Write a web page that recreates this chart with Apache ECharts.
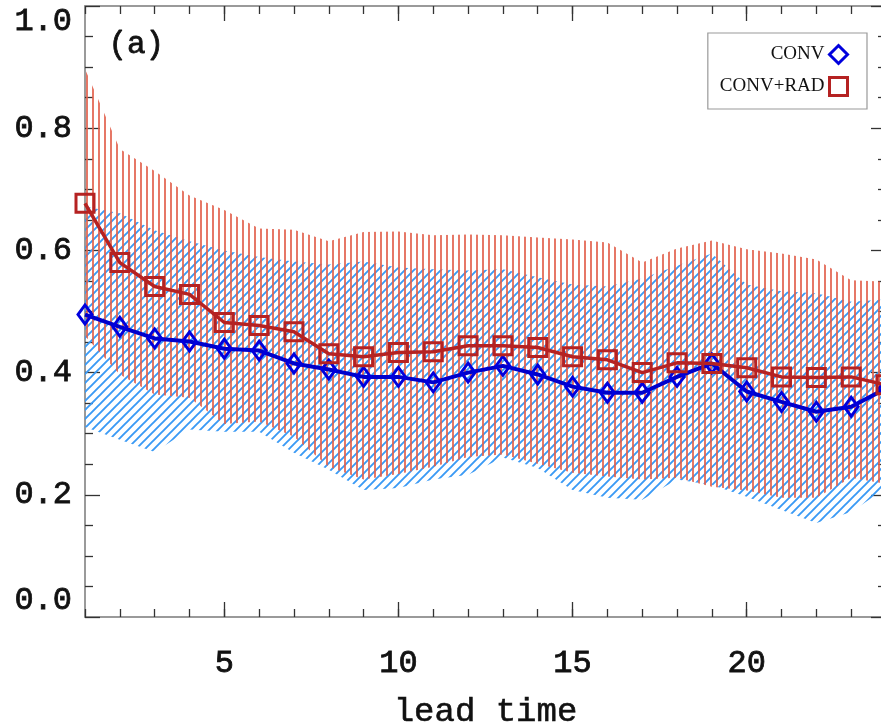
<!DOCTYPE html>
<html>
<head>
<meta charset="utf-8">
<script src="https://cdn.jsdelivr.net/npm/echarts@6/dist/echarts.min.js"></script>
<style>html,body{margin:0;padding:0;background:#fff}#c{width:881px;height:725px}</style>
</head>
<body>
<div id="c"></div>
<script>
// ---- data ----
var leadTime = [1,2,3,4,5,6,7,8,9,10,11,12,13,14,15,16,17,18,19,20,21,22,23,24];
var conv     = [0.495,0.475,0.456,0.451,0.439,0.436,0.415,0.405,0.393,0.393,0.384,0.400,0.411,0.397,0.377,0.367,0.367,0.393,0.415,0.369,0.352,0.336,0.344,0.374];
var convRad  = [0.677,0.580,0.541,0.528,0.482,0.477,0.467,0.431,0.426,0.433,0.434,0.444,0.444,0.441,0.426,0.421,0.400,0.416,0.415,0.408,0.393,0.392,0.393,0.380];
var convUpper    = [0.672,0.661,0.633,0.615,0.600,0.589,0.582,0.577,0.582,0.572,0.569,0.567,0.569,0.556,0.544,0.541,0.554,0.575,0.595,0.544,0.533,0.530,0.516,0.520];
var convLower    = [0.311,0.290,0.270,0.307,0.303,0.303,0.269,0.241,0.208,0.211,0.225,0.233,0.261,0.244,0.208,0.195,0.192,0.225,0.216,0.197,0.175,0.154,0.172,0.211];
var convRadUpper = [0.897,0.766,0.730,0.690,0.666,0.636,0.634,0.615,0.630,0.631,0.625,0.626,0.625,0.621,0.618,0.613,0.580,0.603,0.616,0.602,0.595,0.585,0.551,0.549];
var convRadLower = [0.460,0.397,0.364,0.359,0.316,0.320,0.295,0.246,0.225,0.234,0.246,0.262,0.266,0.251,0.236,0.230,0.225,0.228,0.213,0.207,0.195,0.195,0.228,0.218];
var yTicks = [0.0,0.2,0.4,0.6,0.8,1.0];
var seriesNames = ['CONV','CONV+RAD'];
var panelLabel = '(a)';
var xTitle = 'lead time';

// ---- patterns ----
function vPattern(){
  var c=document.createElement('canvas'); c.width=6; c.height=6;
  var g=c.getContext('2d'); g.strokeStyle='#e2604c'; g.lineWidth=1.7;
  g.beginPath(); g.moveTo(3,0); g.lineTo(3,6); g.stroke(); return c;
}
function dPattern(){
  var s=9, c=document.createElement('canvas'); c.width=s; c.height=s;
  var g=c.getContext('2d'); g.strokeStyle='#3a9af5'; g.lineWidth=1.9;
  g.beginPath();
  g.moveTo(0,s); g.lineTo(s,0);
  g.moveTo(-s/2,s/2); g.lineTo(s/2,-s/2);
  g.moveTo(s/2,s*1.5); g.lineTo(s*1.5,s/2);
  g.stroke(); return c;
}
var blueDiff = convUpper.map(function(v,i){return +(v-convLower[i]).toFixed(3);});
var redDiff  = convRadUpper.map(function(v,i){return +(v-convRadLower[i]).toFixed(3);});

var mono = 'Liberation Mono';
var axisGray = '#9a9a9a';
var tickCol = '#333';
var txt = '#111';
function isMajor(i, v){ return (+v) % 5 === 0; }

function xAx(pos, major, labels){
  return {
    type:'category', data: leadTime, boundaryGap:false, position:pos,
    axisLine:{show: !major, lineStyle:{color:axisGray, width:2}},
    axisTick:{show:true, inside:true, length: major?15:8, interval: major?isMajor:0, alignWithLabel:true, lineStyle:{color:tickCol,width:1.3}},
    axisLabel:{show: labels, interval: isMajor, margin:31, fontFamily:mono, fontSize:32, color:txt, textBorderColor:txt, textBorderWidth:0.8},
    splitLine:{show:false},
    name: labels ? xTitle : '', nameLocation:'middle', nameGap:78,
    nameTextStyle:{fontFamily:mono, fontSize:34, color:txt, textBorderColor:txt, textBorderWidth:0.6}
  };
}
function yAx(pos, labels){
  return {
    type:'value', min:0, max:1, interval:0.2, position:pos,
    axisLine:{show:true, lineStyle:{color:axisGray, width:2}},
    axisTick:{show:true, inside:true, length:15, lineStyle:{color:tickCol,width:1.3}},
    minorTick:{show:true, splitNumber:4, length:8, lineStyle:{color:tickCol,width:1.3}},
    splitLine:{show:false}, minorSplitLine:{show:false},
    axisLabel:{show:labels, margin:13, fontFamily:mono, fontSize:32, color:txt, textBorderColor:txt, textBorderWidth:0.8,
      verticalAlignMinLabel:'bottom', verticalAlignMaxLabel:'top',
      formatter:function(v){return v.toFixed(1);}}
  };
}

var chart = echarts.init(document.getElementById('c'), null, {renderer:'canvas'});
chart.setOption({
  backgroundColor:'#fff',
  animation:false,
  grid:{left:85, right:-5, top:6, bottom:108, containLabel:false, outerBoundsMode:'none'},
  xAxis:[xAx('bottom',false,false), xAx('bottom',true,true), xAx('top',false,false), xAx('top',true,false)],
  yAxis:[yAx('left',true), yAx('right',false)],
  legend:{
    right:14, top:33, orient:'vertical', align:'right',
    padding:[11,18,12,12], itemGap:11, itemWidth:18, itemHeight:18,
    borderColor:'#999', borderWidth:1.2, backgroundColor:'#fff',
    textStyle:{fontFamily:'Liberation Serif', fontSize:19, color:'#111'},
    data:[
      {name:seriesNames[0], icon:'diamond', itemStyle:{color:'transparent', borderColor:'#0000dd', borderWidth:3}},
      {name:seriesNames[1], icon:'rect', itemStyle:{color:'transparent', borderColor:'#b52222', borderWidth:3}}
    ]
  },
  graphic:[{type:'text', left:108, top:29, style:{text:panelLabel, font:'31px "Liberation Mono"', fill:txt, stroke:txt, lineWidth:0.8}}],
  series:[
    {name:'convLow', type:'line', stack:'b', data:convLower, symbol:'none', lineStyle:{opacity:0}, silent:true, z:1},
    {name:'convBand', type:'line', stack:'b', data:blueDiff, symbol:'none', lineStyle:{opacity:0}, silent:true, z:1,
      areaStyle:{color:{image:dPattern(), repeat:'repeat'}, opacity:1}},
    {name:'radLow', type:'line', stack:'r', data:convRadLower, symbol:'none', lineStyle:{opacity:0}, silent:true, z:2},
    {name:'radBand', type:'line', stack:'r', data:redDiff, symbol:'none', lineStyle:{opacity:0}, silent:true, z:2,
      areaStyle:{color:{image:vPattern(), repeat:'repeat'}, opacity:1}},
    {name:seriesNames[0], type:'line', data:conv, symbol:'diamond', symbolSize:[14,19], z:5,
      lineStyle:{color:'#0000cc', width:4}, itemStyle:{color:'transparent', borderColor:'#0000dd', borderWidth:3}},
    {name:seriesNames[1], type:'line', data:convRad, symbol:'rect', symbolSize:18, z:6,
      lineStyle:{color:'#b52222', width:3.5}, itemStyle:{color:'transparent', borderColor:'#b52222', borderWidth:3}}
  ]
});
</script>
</body>
</html>
